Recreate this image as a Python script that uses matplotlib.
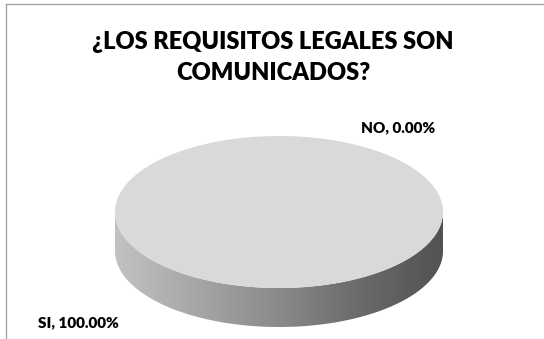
import numpy as np
import matplotlib
matplotlib.use("Agg")
import matplotlib.pyplot as plt
from matplotlib.patches import Polygon
from matplotlib.colors import LinearSegmentedColormap

# Survey answers
categories = ["SI", "NO"]
percentages = [100.0, 0.0]
title = "¿LOS REQUISITOS LEGALES SON\nCOMUNICADOS?"

W, H = 544, 339
fig = plt.figure(figsize=(W / 100, H / 100), dpi=100)
ax = fig.add_axes([0, 0, 1, 1])
ax.set_xlim(0, W)
ax.set_ylim(H, 0)
ax.axis("off")

FONT = ["Lato", "DejaVu Sans"]

# chart-area frame (only top and left edges fall inside the image)
ax.plot([6, W], [4, 4], color="#a6a6a6", lw=1)
ax.plot([6, 6], [4, H], color="#a6a6a6", lw=1)

# title
ax.text(273, 57.5, title, ha="center", va="center", fontsize=17,
        fontweight="heavy", family=FONT, linespacing=1.5, color="#000000")

# 3-D pie geometry (pixels)
cx, cy, a, b, depth = 279, 212, 164, 76, 39
t = np.linspace(0, 2 * np.pi, 721)

def ell(theta, dy=0.0):
    return cx + a * np.cos(theta), cy - b * np.sin(theta) + dy

# side wall: lower half of the rim extruded downward
tb = np.linspace(np.pi, 2 * np.pi, 361)
x1, y1 = ell(tb)
x2, y2 = ell(tb[::-1], depth)
side_xy = np.column_stack([np.r_[x1, x2], np.r_[y1, y2]])
side = Polygon(side_xy, closed=True, facecolor="none", edgecolor="none")
ax.add_patch(side)
grad = LinearSegmentedColormap.from_list(
    "side", ["#c2c2c2", "#a6a6a6", "#8a8a8a", "#6a6a6a", "#525252"])
img = ax.imshow(np.linspace(0, 1, 256)[None, :], cmap=grad, aspect="auto",
                extent=(cx - a, cx + a, cy + b + depth, cy - 5),
                interpolation="bilinear", zorder=2)
img.set_clip_path(side)

# top face: one wedge per category, sized by its share
total = sum(percentages)
start = np.pi / 2
top_colors = ["#d9d9d9", "#bfbfbf"]
for val, col in zip(percentages, top_colors):
    span = 2 * np.pi * val / total
    if span <= 0:
        continue
    th = np.linspace(start, start - span, 721)
    xs, ys = ell(th)
    if span < 2 * np.pi - 1e-9:
        xs = np.r_[cx, xs]
        ys = np.r_[cy, ys]
    ax.add_patch(Polygon(np.column_stack([xs, ys]), closed=True,
                         facecolor=col, edgecolor="none", zorder=3))
    start -= span

# data labels
label_pos = {"NO": (398, 128), "SI": (78, 323)}
for cat, val in zip(categories, percentages):
    x, y = label_pos[cat]
    ax.text(x, y, f"{cat}, {val:.2f}%", ha="center", va="center",
            fontsize=11, fontweight="heavy", family=FONT, color="#000000",
            zorder=4)

fig.savefig("out.png", dpi=100)
